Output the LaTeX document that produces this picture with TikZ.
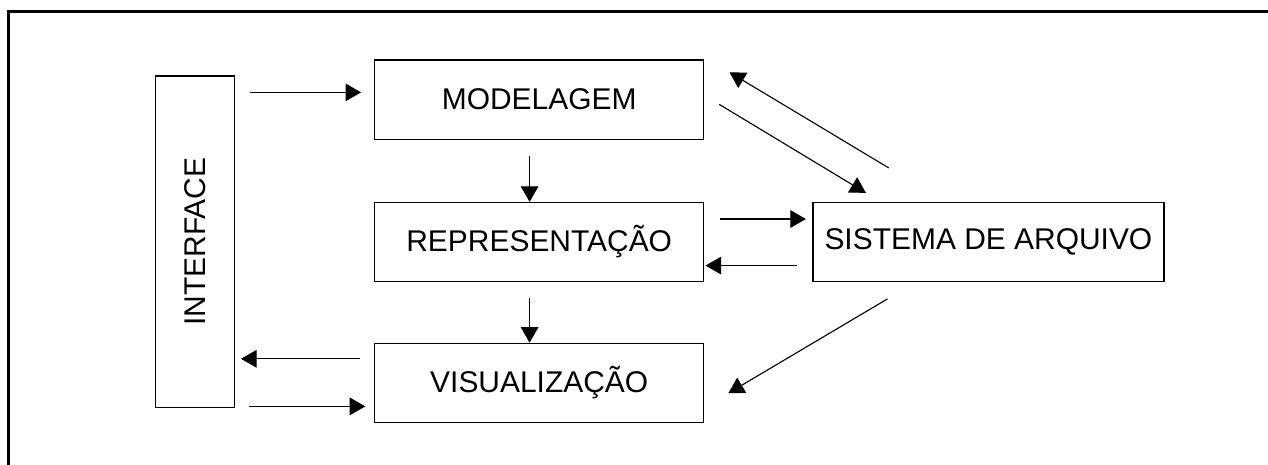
\documentclass[tikz,border=0pt]{standalone}
\usepackage{fontspec}
\setmainfont{Liberation Sans}
\usetikzlibrary{arrows.meta,calc}

\begin{document}
\begin{tikzpicture}[
  bloco/.style={draw, line width=0.85pt, minimum width=8.225cm, minimum height=1.975cm, inner sep=0pt, font=\fontsize{21.3}{24}\selectfont},
  seta/.style={line width=0.8pt, -{Triangle[length=0.39cm,width=0.44cm]}}
]
\useasboundingbox (0,0) rectangle (31.7,11.6);
\begin{scope}
\clip (0,0) rectangle (31.7,11.6);
\draw[line width=2.1pt] (0.2125,-1) rectangle (33,11.31);
\end{scope}

\node[bloco, rotate=90, minimum width=8.275cm, minimum height=1.98cm] (interface) at (4.88,5.56) {INTERFACE};
\node[bloco] (modelagem) at (13.48,9.11) {MODELAGEM};
\node[bloco] (representacao) at (13.48,5.55) {REPRESENTAÇÃO};
\node[bloco] (visualizacao) at (13.48,2.03) {VISUALIZAÇÃO};
\node[bloco, minimum width=8.775cm] (sistema) at (24.71,5.55) {SISTEMA DE ARQUIVO};

\draw[seta] ($(modelagem.west -| interface.south)+(0.375,0.18)$) -- ($(modelagem.west)+(-0.325,0.18)$);
\draw[seta] ($(modelagem.south)+(-0.24,-0.42)$) -- ($(representacao.north)+(-0.24,0)$);
\draw[seta] ($(representacao.south)+(-0.24,-0.39)$) -- ($(visualizacao.north)+(-0.24,0)$);
\draw[seta] ($(visualizacao.west)+(-0.35,0.6)$) -- ($(visualizacao.west -| interface.south)+(0.14,0.6)$);
\draw[seta] ($(visualizacao.west -| interface.south)+(0.35,-0.59)$) -- ($(visualizacao.west)+(-0.22,-0.59)$);
\draw[seta] ($(representacao.east)+(0.38,0.575)$) -- ($(sistema.west)+(-0.16,0.575)$);
\draw[seta] ($(sistema.west)+(-0.39,-0.59)$) -- ($(representacao.east)+(0.03,-0.59)$);
\draw[seta] ($(modelagem.east)+(0.375,-0.12)$) -- ($(sistema.north west)+(1.34,0.225)$);
\draw[seta] ($(sistema.north west)+(1.91,0.85)$) -- ($(modelagem.north east)+(0.63,-0.32)$);
\draw[seta] ($(sistema.south west)+(1.88,-0.42)$) -- ($(visualizacao.east)+(0.6,-0.26)$);
\end{tikzpicture}
\end{document}
